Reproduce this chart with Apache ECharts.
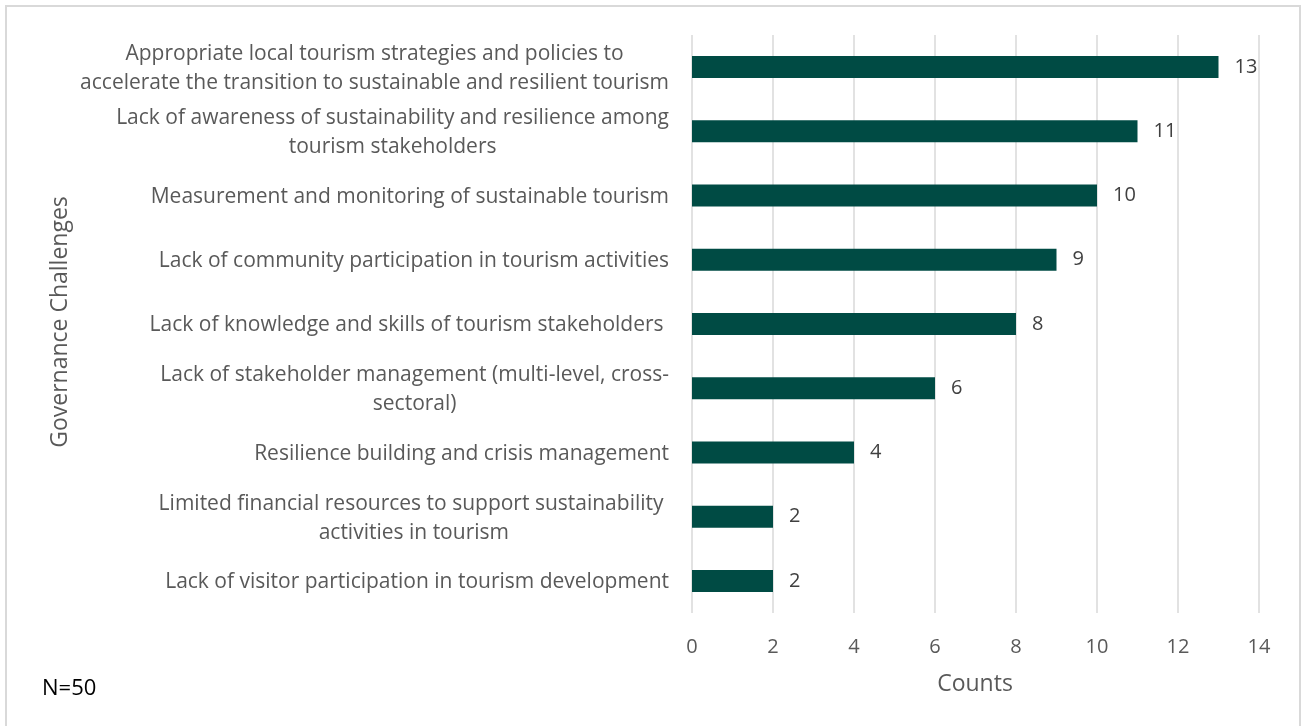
<!DOCTYPE html>
<html>
<head>
<meta charset="utf-8">
<script src="https://cdn.jsdelivr.net/npm/echarts@6/dist/echarts.min.js"></script>
<style>
  html, body { margin: 0; padding: 0; background: #ffffff; }
  #chart { width: 1306px; height: 726px; }
</style>
</head>
<body>
<div id="chart"></div>
<script>
// Governance challenges named by respondents (top to bottom)
const categories = [
  'Appropriate local tourism strategies and policies to\naccelerate the transition to sustainable and resilient tourism',
  'Lack of awareness of sustainability and resilience among\ntourism stakeholders',
  'Measurement and monitoring of sustainable tourism',
  'Lack of community participation in tourism activities',
  'Lack of knowledge and skills of tourism stakeholders ',
  'Lack of stakeholder management (multi-level, cross-\nsectoral)',
  'Resilience building and crisis management',
  'Limited financial resources to support sustainability \nactivities in tourism',
  'Lack of visitor participation in tourism development'
];
const counts = [13, 11, 10, 9, 8, 6, 4, 2, 2];
const xTicks = { min: 0, max: 14, interval: 2 };
const axisTitleX = 'Counts';
const axisTitleY = 'Governance Challenges';
const sampleNote = 'N=50';

const FONT = '"Open Sans", Lato, sans-serif';
const chart = echarts.init(document.getElementById('chart'), null, { renderer: 'canvas' });

chart.setOption({
  backgroundColor: '#ffffff',
  animation: false,
  grid: { left: 692, right: 47, top: 35, bottom: 113, containLabel: false },
  xAxis: {
    type: 'value',
    min: xTicks.min,
    max: xTicks.max,
    interval: xTicks.interval,
    axisLine: { show: false },
    axisTick: { show: false },
    splitLine: { show: true, lineStyle: { color: '#d9d9d9', width: 1.5 } },
    axisLabel: { color: '#595959', fontFamily: FONT, fontSize: 20, margin: 24 }
  },
  yAxis: {
    type: 'category',
    data: categories,
    inverse: true,
    axisLine: { show: false },
    axisTick: { show: false },
    axisLabel: {
      margin: 23,
      align: 'right',
      color: '#595959',
      fontFamily: FONT,
      fontSize: 21,
      lineHeight: 29,
      padding: [3, 0, 0, 0],
      // each wrapped line is centred inside its right-aligned label block
      formatter: function (v) {
        return v.split('\n').map(function (s) { return '{c|' + s + '}'; }).join('\n');
      },
      rich: {
        c: { align: 'center', color: '#595959', fontFamily: FONT, fontSize: 21, lineHeight: 29 }
      }
    }
  },
  series: [{
    type: 'bar',
    data: counts,
    barWidth: 22,
    itemStyle: { color: '#004b44' },
    label: {
      show: true,
      position: 'right',
      distance: 16,
      color: '#404040',
      fontFamily: FONT,
      fontSize: 20
    }
  }],
  graphic: [
    {
      type: 'rect',
      shape: { x: 6, y: 6, width: 1294, height: 740 },
      style: { fill: 'none', stroke: '#d9d9d9', lineWidth: 2 },
      silent: true
    },
    {
      type: 'text',
      x: 975, y: 684,
      style: { text: axisTitleX, fill: '#595959', font: '23px ' + FONT, textAlign: 'center', textVerticalAlign: 'middle' }
    },
    {
      type: 'text',
      x: 60, y: 322,
      rotation: Math.PI / 2,
      style: { text: axisTitleY, fill: '#595959', font: '23px ' + FONT, textAlign: 'center', textVerticalAlign: 'middle' }
    },
    {
      type: 'text',
      x: 42, y: 689,
      style: { text: sampleNote, fill: '#000000', font: '22px ' + FONT, textAlign: 'left', textVerticalAlign: 'middle' }
    }
  ]
});
</script>
</body>
</html>
